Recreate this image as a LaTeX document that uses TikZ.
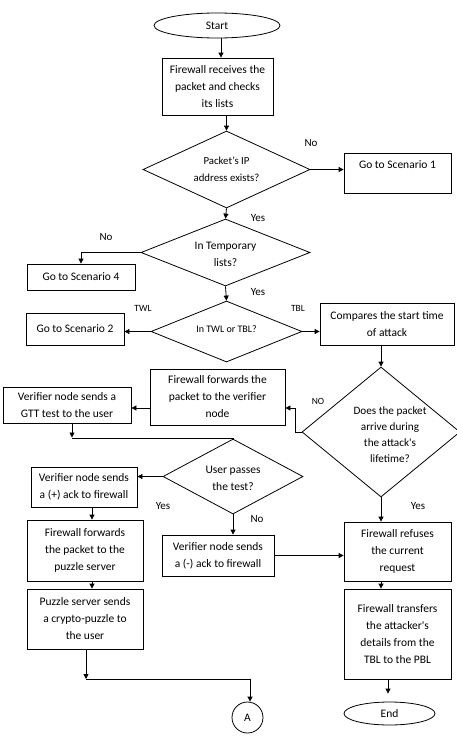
\documentclass[tikz,border=0pt]{standalone}
\usepackage{fontspec}
\setmainfont{Carlito}
\usetikzlibrary{shapes.geometric,arrows.meta,calc}
\begin{document}
\begin{tikzpicture}[x=1pt,y=-1pt,
  every node/.style={font=\fontsize{11.5}{17}\selectfont},
  procbox/.style={draw, line width=0.8pt, rectangle, align=center, inner sep=0pt},
  term/.style={draw, line width=0.8pt, ellipse, inner sep=0pt},
  dia/.style={draw, line width=0.8pt, diamond, inner sep=0pt},
  dtext/.style={align=center, inner sep=0pt},
  arr/.style={-{Triangle[length=5pt,width=5pt]}, line width=0.8pt},
  ln/.style={line width=0.8pt},
  lbl/.style={inner sep=0pt, font=\fontsize{11}{13}\selectfont},
  slbl/.style={inner sep=0pt, font=\fontsize{9.5}{11}\selectfont}
]
\path[use as bounding box, fill=white] (0,0) rectangle (456,736);

% nodes
\node[term, minimum width=126pt, minimum height=25pt] (start) at (217,25.5) {Start};
\node[procbox, minimum width=111pt, minimum height=57pt] (box1) at (217.5,86.5) {Firewall receives the\\packet and checks\\its lists};
\node[dia, minimum width=167pt, minimum height=77pt,
  label={[dtext, font=\fontsize{10.8}{17}\selectfont]center:Packet’s IP\\address exists?}] (d1) at (226.5,169.5) {};
\node[procbox, minimum width=107pt, minimum height=40pt] (scen1) at (397.5,173) {Go to Scenario 1\\\mbox{}};
\node[dia, minimum width=169pt, minimum height=67pt,
  label={[dtext, font=\fontsize{11.5}{17}\selectfont, yshift=-2pt]center:In Temporary\\lists?}] (d2) at (225.5,252.5) {};
\node[procbox, minimum width=108pt, minimum height=26pt] (scen4) at (81,277) {Go to Scenario 4};
\node[dia, minimum width=151pt, minimum height=61pt,
  label={[dtext, font=\fontsize{10}{12}\selectfont, yshift=2pt]center:In TWL or TBL?}] (d3) at (226.5,331.5) {};
\node[procbox, minimum width=98pt, minimum height=32pt] (scen2) at (75,329) {Go to Scenario 2};
\node[procbox, minimum width=134pt, minimum height=42pt] (comp) at (387,324) {Compares the start time\\of attack};
\node[procbox, minimum width=135pt, minimum height=56pt] (fwdver) at (217.5,397) {Firewall forwards the\\packet to the verifier\\node};
\node[dia, minimum width=158pt, minimum height=130pt,
  label={[dtext, font=\fontsize{11.2}{16}\selectfont, xshift=9pt, yshift=-3pt]center:Does the packet\\arrive during\\the attack\textquotesingle s\\lifetime?}] (d4) at (381,432) {};
\node[procbox, minimum width=128pt, minimum height=36pt] (gtt) at (67,405) {Verifier node sends a\\GTT test to the user};
\node[dia, minimum width=140pt, minimum height=75pt,
  label={[dtext, font=\fontsize{11.5}{17}\selectfont, yshift=-2pt]center:User passes\\the test?}] (d5) at (233,476.5) {};
\node[procbox, minimum width=106pt, minimum height=40pt] (plus) at (84,487) {Verifier node sends\\a (+) ack to firewall};
\node[procbox, minimum width=116pt, minimum height=61pt] (fwdpuz) at (85,550.5) {Firewall forwards\\the packet to the\\puzzle server};
\node[procbox, minimum width=112pt, minimum height=41pt] (minus) at (218,555.5) {Verifier node sends\\a (-) ack to firewall};
\node[procbox, minimum width=107pt, minimum height=59pt] (refuse) at (397.5,551.5) {Firewall refuses\\the current\\request};
\node[procbox, minimum width=116pt, minimum height=60pt] (puzzle) at (85,619) {Puzzle server sends\\a crypto-puzzle to\\the user};
\node[procbox, minimum width=107pt, minimum height=90pt] (transfer) at (397.5,634) {Firewall transfers\\the attacker\textquotesingle s\\details from the\\TBL to the PBL};
\node[term, minimum width=91pt, minimum height=23pt] (endn) at (389.5,713.5) {End};
\node[draw, line width=0.8pt, circle, minimum size=31pt, inner sep=0pt] (A) at (247.5,717.5) {A};

% labels
\node[lbl] (l1) at (311,143) {No};
\node[lbl] (l2) at (258,218) {Yes};
\node[lbl] (l3) at (106,237) {No};
\node[lbl] (l4) at (258,292) {Yes};
\node[slbl] (l5) at (143,308) {TWL};
\node[slbl] (l6) at (298,308) {TBL};
\node[slbl] (l7) at (318,401) {NO};
\node[lbl] (l8) at (163,506) {Yes};
\node[lbl] (l9) at (257,519) {No};
\node[lbl] (l10) at (418,506) {Yes};

% coordinates
\coordinate (c1) at (72,438);
\coordinate (c1a) at (72,437.5);
\coordinate (c2) at (86,679);
\coordinate (c3) at (295,432);
\coordinate (c4) at ($(fwdver.east)+(0,11)$);
\coordinate (c5) at ($(fwdver.west)+(0,11)$);
\coordinate (c6) at ($(A.north)+(2.5,0)$);

% connectors
\draw[arr] (start.south -| 221,0) -- (box1.north -| 221,0);
\draw[arr] (box1.south -| d1.north) -- (d1.north);
\draw[arr] (d1.east) -- (d1.east -| scen1.west);
\draw[arr] (d1.south) -- (d2.north);
\draw[arr] (d2.west) -| (scen4.north);
\draw[arr] (d2.south) -- (d3.north);
\draw[arr] (d3.west) -- (d3.west -| scen2.east);
\draw[arr] (d3.east) -- (d3.east -| comp.west);
\draw[arr] (comp.south -| d4.north) -- (d4.north);
\draw[arr] (d4.west) -- (c3) |- (c4);
\draw[arr] (c5) -- (c5 -| gtt.east);
\draw[arr] (gtt.south -| c1) -- (c1a);
\draw[ln] (c1) -- (c1 -| d5.north) -- (d5.north);
\draw[arr] (d5.west) -- (d5.west -| plus.east);
\draw[arr] (d5.south) -- (d5.south |- minus.north);
\draw[arr] (minus.east) -- (minus.east -| refuse.west);
\draw[arr] (d4.south) -- (d4.south |- refuse.north);
\draw[arr] (plus.south -| 92,0) -- (fwdpuz.north -| 92,0);
\draw[arr] (fwdpuz.south -| 92,0) -- (puzzle.north -| 92,0);
\draw[arr] (puzzle.south -| c2) -- (c2);
\draw[arr] (c2) -| (c6);
\draw[arr] (refuse.south -| d4.south) -- (transfer.north -| d4.south);
\draw[arr, shorten >=8pt] (transfer.south -| 388,0) -- (endn.north -| 388,0);
\end{tikzpicture}
\end{document}
